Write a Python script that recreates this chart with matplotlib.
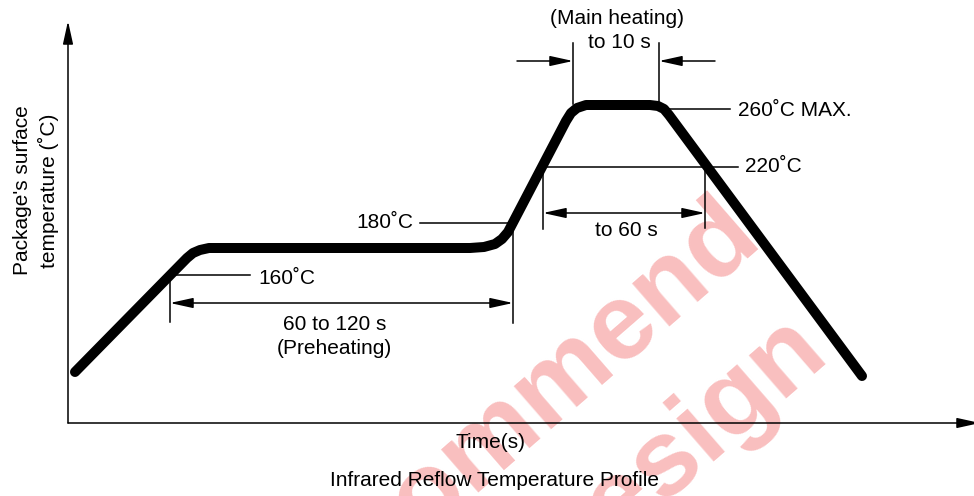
import matplotlib
matplotlib.use("Agg")
import matplotlib.pyplot as plt

plt.rcParams['font.family'] = ['Liberation Sans', 'DejaVu Sans']

# schematic profile (time units, temperature units), origin at the axis corner
profile_t = [7, 119, 125, 132, 141, 402, 416, 427, 434, 440, 498, 503, 509, 518, 582, 590, 596, 601, 794]
profile_T = [51, 165, 170, 173, 175, 175, 176, 179, 184, 191, 302, 310, 315, 318, 318, 317, 314, 308, 47]

# temperature levels on the schematic
lvl_160 = 148
lvl_180 = 200
lvl_220 = 256
lvl_260 = 314

# time marks
t_160 = 102
t_180 = 445
t_220_up = 475
t_220_down = 637
t_peak_a = 505
t_peak_b = 591

labels = ["160˚C", "180˚C", "220˚C", "260˚C MAX."]
stamp = ["Not Recommend", "for New Design"]

fig = plt.figure(figsize=(9.74, 4.96), dpi=100)
ax = fig.add_axes([0, 0, 1, 1])
ax.set_xlim(-68, 906)
ax.set_ylim(-73, 423)
ax.axis("off")

fs = 15
thin = 1.1
arr = dict(arrowstyle="-|>,head_length=1,head_width=0.22", color="black",
           lw=thin, mutation_scale=14, shrinkA=0, shrinkB=0)
arr2 = dict(arr, arrowstyle="<|-|>,head_length=1,head_width=0.22")

# watermark, one line at a time
wm = dict(rotation=41, rotation_mode="anchor", ha="center", va="center",
          fontsize=78, fontweight="bold", color="#f9bfbf", zorder=0)
ax.text(353, -83, stamp[0], **wm)
ax.text(447, -174, stamp[1], **wm)

# axes with arrows
ax.annotate("", xy=(0, 402), xytext=(0, 0), arrowprops=arr, annotation_clip=False)
ax.annotate("", xy=(912, 0), xytext=(0, 0), arrowprops=arr, annotation_clip=False)

# profile curve
ax.plot(profile_t, profile_T, color="black", lw=7.2, solid_capstyle="round",
        solid_joinstyle="round", zorder=5)

# 160 C
ax.plot([t_160, 182], [lvl_160, lvl_160], color="black", lw=thin)
ax.text(190, lvl_160 - 3, labels[0], fontsize=fs, ha="left", va="center")
# 180 C
ax.plot([352, 440], [lvl_180, lvl_180], color="black", lw=thin)
ax.text(345, lvl_180, labels[1], fontsize=fs, ha="right", va="center")
# 220 C
ax.plot([t_220_up, 670], [lvl_220, lvl_220], color="black", lw=thin)
ax.text(677, lvl_220, labels[2], fontsize=fs, ha="left", va="center")
# 260 C
ax.plot([592, 662], [lvl_260, lvl_260], color="black", lw=thin)
ax.text(670, lvl_260 - 2, labels[3], fontsize=fs, ha="left", va="center")

# preheating span
ax.plot([t_160, t_160], [lvl_160, 101], color="black", lw=thin)
ax.plot([t_180, t_180], [196, 100], color="black", lw=thin)
ax.annotate("", xy=(t_180, 120), xytext=(t_160, 120), arrowprops=arr2)
ax.text(267, 99, "60 to 120 s", fontsize=fs, ha="center", va="center")
ax.text(266, 75, "(Preheating)", fontsize=fs, ha="center", va="center")

# 220 C span
ax.plot([t_220_up, t_220_up], [lvl_220, 194], color="black", lw=thin)
ax.plot([t_220_down, t_220_down], [lvl_220, 195], color="black", lw=thin)
ax.annotate("", xy=(t_220_down, 210), xytext=(t_220_up, 210), arrowprops=arr2)
ax.text(558, 192, "to 60 s", fontsize=fs, ha="center", va="center")

# main heating span
ax.plot([t_peak_a, t_peak_a], [319, 380], color="black", lw=thin)
ax.plot([t_peak_b, t_peak_b], [319, 380], color="black", lw=thin)
ax.annotate("", xy=(t_peak_a, 362), xytext=(449, 362), arrowprops=arr)
ax.annotate("", xy=(t_peak_b, 362), xytext=(647, 362), arrowprops=arr)
ax.text(549, 404, "(Main heating)", fontsize=fs, ha="center", va="center")
ax.text(551, 381, "to 10 s", fontsize=fs, ha="center", va="center")

# axis labels and caption
ax.text(423, -20, "Time(s)", fontsize=fs, ha="center", va="center")
ax.text(426, -57, "Infrared Reflow Temperature Profile", fontsize=fs, ha="center", va="center")
ax.text(-46, 233, "Package's surface", fontsize=fs, rotation=90, ha="center", va="center")
ax.text(-20, 232, "temperature (˚C)", fontsize=fs, rotation=90, ha="center", va="center")

fig.savefig("out.png", dpi=100)
